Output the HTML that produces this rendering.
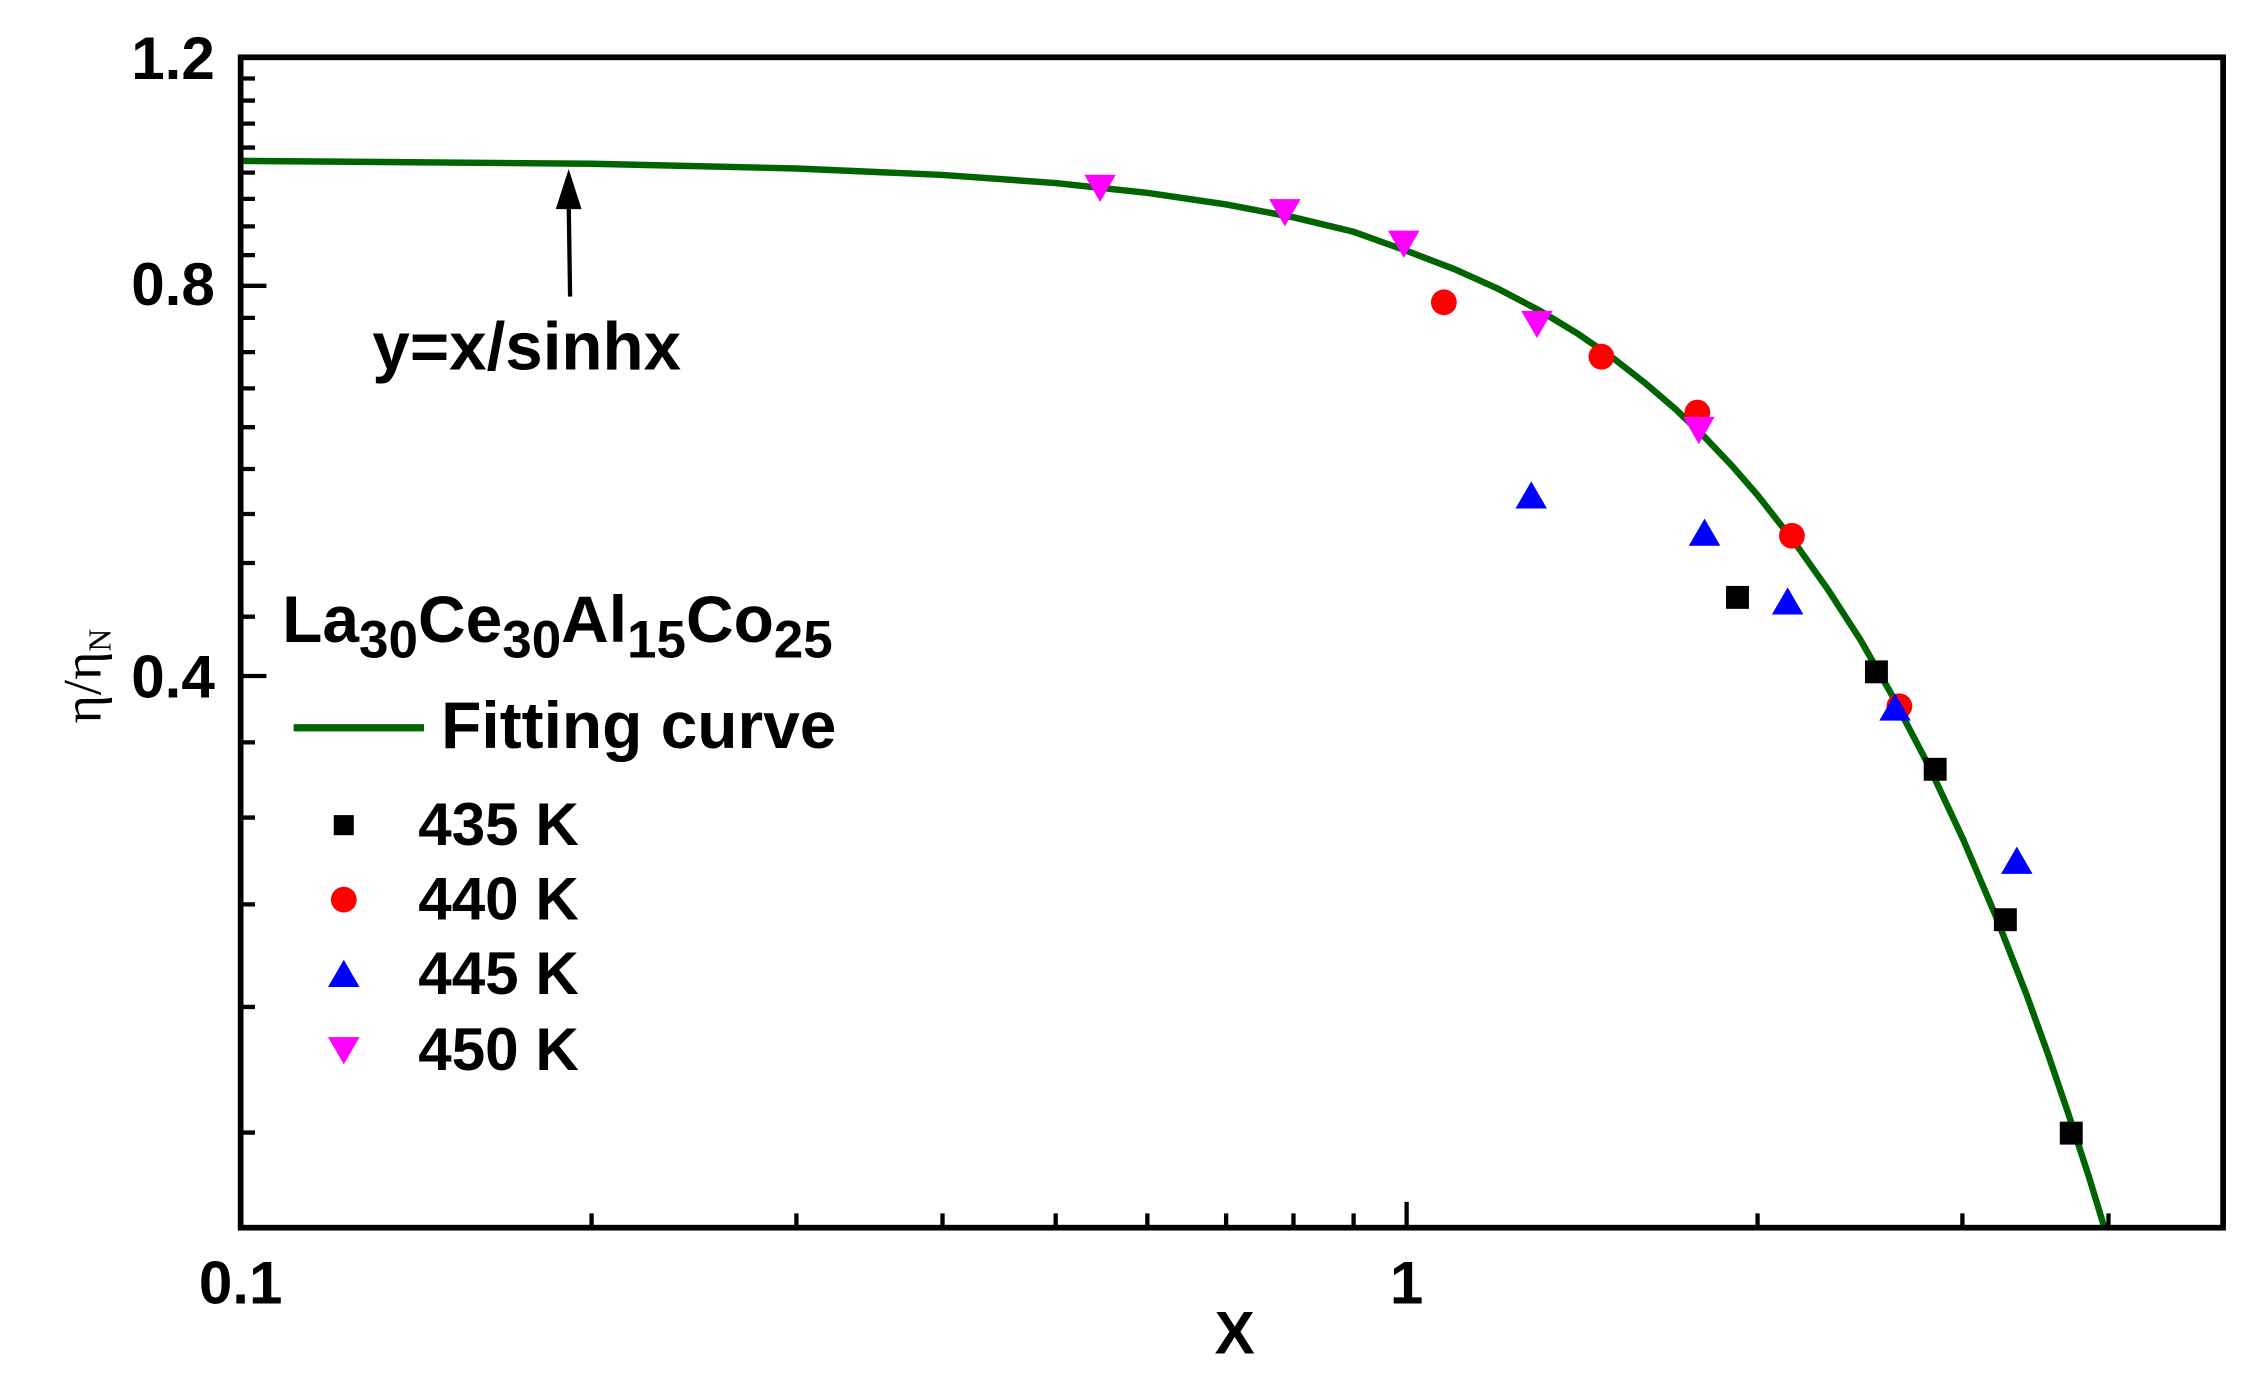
<!DOCTYPE html>
<html><head><meta charset="utf-8"><style>
html,body{margin:0;padding:0;background:#fff;}
svg{display:block;}
text{font-family:"Liberation Sans",Arial,sans-serif;font-weight:bold;fill:#000;}
</style></head><body>
<svg width="2246" height="1391" viewBox="0 0 1568 971" preserveAspectRatio="none" xmlns="http://www.w3.org/2000/svg">
<rect x="0" y="0" width="1568" height="971" fill="#fff"/>
<defs><clipPath id="c"><rect x="168" y="40" width="1384" height="817"/></clipPath></defs>
<path clip-path="url(#c)" fill="none" stroke="#006400" stroke-width="4.5" stroke-linejoin="round" d="M168,112.3 L413,114.3 L556.3,117.6 L658,122.1 L737,127.8 L801.4,134.7 L856,142.7 L903,151.7 L945,161.8 L982,175.1 L1015.7,188 L1046.5,201.9 L1074.7,216.7 L1101,232.6 L1125.3,249.3 L1148,267 L1169.6,285.5 L1189.8,304.8 L1208.9,324.9 L1227,345.6 L1252.6,378.3 L1276.4,411.9 L1298.8,446.6 L1319.8,483.4 L1346,533.6 L1370.4,585.6 L1393.2,639.2 L1414.7,694.1 L1429.9,736.2 L1444.5,779 L1458.6,822.3 L1472,866.4"/>
<rect x="168" y="40" width="1384" height="817" fill="none" stroke="#000" stroke-width="4"/>
<g stroke="#000" stroke-width="3">
<path d="M168,54.8h10M168,70.2h10M168,86.3h10M168,103h10M168,120.5h10M168,138.8h10M168,158h10M168,178.1h10M168,199.5h18M168,221.9h10M168,245.8h10M168,271.1h10M168,298.2h10M168,327.4h10M168,358.8h10M168,393h10M168,430.5h10M168,471.9h18M168,518.2h10M168,570.7h10M168,631.3h10M168,702.9h10M168,790.6h10"/>
<path d="M413,857v-10M556,857v-10M658,857v-10M737,857v-10M801,857v-10M856,857v-10M903,857v-10M945,857v-10M982,857v-18M1227,857v-10M1370,857v-10M1472,857v-10"/>
</g>
<g font-size="42">
<text x="150" y="55" text-anchor="end">1.2</text>
<text x="150" y="213" text-anchor="end">0.8</text>
<text x="150" y="487" text-anchor="end">0.4</text>
<text x="168" y="910" text-anchor="middle">0.1</text>
<text x="982" y="910" text-anchor="middle">1</text>
<text x="862" y="945" text-anchor="middle" font-size="42">X</text>
</g>
<text transform="translate(70,472) rotate(-90)" text-anchor="middle" font-size="38" style="font-family:'Liberation Serif',serif;font-weight:normal">η/η<tspan font-size="22" dy="7">N</tspan></text>
<line x1="398" y1="207" x2="397" y2="140" stroke="#000" stroke-width="3"/>
<polygon points="397,118 388,146 406,146" fill="#000"/>
<text x="260" y="258" font-size="47">y=x/sinhx</text>
<text x="197" y="448" font-size="46">La<tspan font-size="37" dy="11">30</tspan><tspan dy="-11">Ce</tspan><tspan font-size="37" dy="11">30</tspan><tspan dy="-11">Al</tspan><tspan font-size="37" dy="11">15</tspan><tspan dy="-11">Co</tspan><tspan font-size="37" dy="11">25</tspan></text>
<line x1="205" y1="508" x2="296" y2="508" stroke="#006400" stroke-width="5"/>
<text x="308" y="522" font-size="46">Fitting curve</text>
<g font-size="42">
<text x="292" y="590">435 K</text>
<text x="292" y="642">440 K</text>
<text x="292" y="694">445 K</text>
<text x="292" y="747">450 K</text>
</g>
<rect x="233" y="569" width="14" height="14" fill="#000"/>
<circle cx="240" cy="628" r="9" fill="#f00"/>
<polygon points="240,670 229,689 251,689" fill="#00f"/>
<polygon points="240,743 229,724 251,724" fill="#f0f"/>
<g fill="#f00">
<circle cx="1008" cy="211" r="9"/><circle cx="1118" cy="249" r="9"/><circle cx="1185" cy="288" r="9"/><circle cx="1251" cy="374" r="9"/><circle cx="1326" cy="493" r="9"/>
</g>
<g fill="#000">
<rect x="1205" y="409" width="16" height="16"/><rect x="1302" y="461" width="16" height="16"/><rect x="1343" y="529" width="16" height="16"/><rect x="1392" y="634" width="16" height="16"/><rect x="1438" y="783" width="16" height="16"/>
</g>
<g fill="#00f">
<polygon points="1069,336 1058,355 1080,355"/><polygon points="1190,362 1179,381 1201,381"/><polygon points="1248,410 1237,429 1259,429"/><polygon points="1323,484 1312,503 1334,503"/><polygon points="1408,591 1397,610 1419,610"/>
</g>
<g fill="#f0f">
<polygon points="768,141 757,122 779,122"/><polygon points="897,158 886,139 908,139"/><polygon points="980,180 969,161 991,161"/><polygon points="1073,236 1062,217 1084,217"/><polygon points="1186,310 1175,291 1197,291"/>
</g>
</svg>
</body></html>
